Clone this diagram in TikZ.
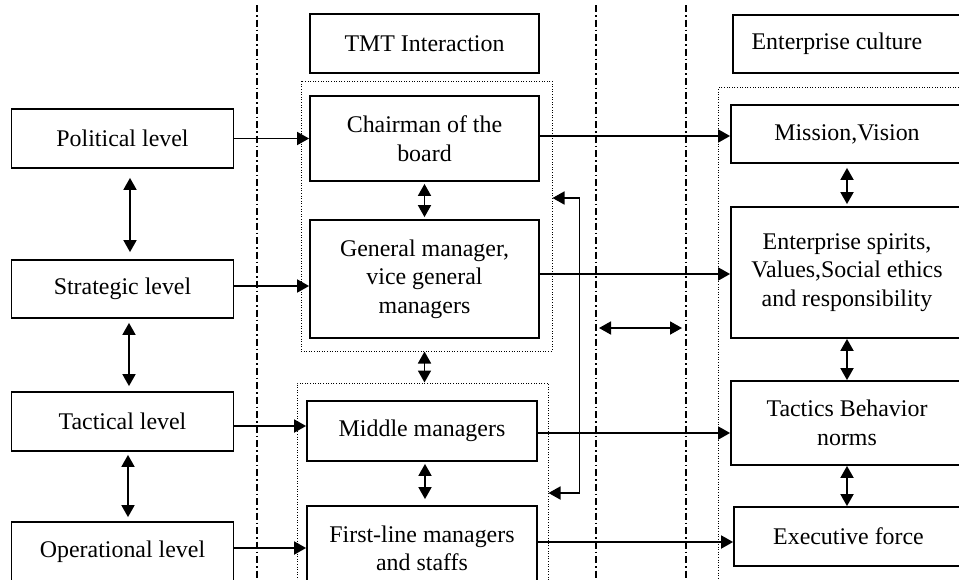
\documentclass[tikz,border=0pt]{standalone}
\usepackage{fontspec}
\setmainfont{Liberation Serif}
\usetikzlibrary{arrows.meta}
\begin{document}
\begin{tikzpicture}[x=1pt,y=-1pt,
  every node/.style={font=\fontsize{23.9}{28.5}\selectfont},
  box/.style={draw, line width=1.8pt, rectangle, inner sep=0pt, align=center},
  grp/.style={draw, line width=1pt, dash pattern=on 1pt off 1.6pt, rectangle, inner sep=0pt},
  sep/.style={line width=1.2pt, dash pattern=on 7pt off 3pt on 1.5pt off 3pt},
  arr/.style={line width=1.8pt, -{Triangle[length=12pt,width=13pt]}},
  dbl/.style={line width=1.8pt, {Triangle[length=12pt,width=13pt]}-{Triangle[length=12pt,width=13pt]}}
]
\useasboundingbox (0,0) rectangle (959,579);
\clip (0,0) rectangle (959,579);

% column separators
\coordinate (s1t) at (257,5);   \coordinate (s1b) at (257,579);
\coordinate (s2t) at (596,5);   \coordinate (s2b) at (596,579);
\coordinate (s3t) at (686,5);   \coordinate (s3b) at (686,579);
\draw[sep] (s1t) -- (s1b);
\draw[sep] (s2t) -- (s2b);
\draw[sep] (s3t) -- (s3b);

% management levels
\node[box, minimum width=222pt, minimum height=59pt] (pol) at (122.5,138.5) {Political level};
\node[box, minimum width=222pt, minimum height=58pt] (str) at (122.5,289) {Strategic level};
\node[box, minimum width=222pt, minimum height=59pt] (tac) at (122.5,421.5) {Tactical level};
\node[box, minimum width=222pt, minimum height=59pt] (ope) at (122.5,551.5) {Operational level};

% top management team
\node[box, minimum width=229pt, minimum height=59pt] (tmt) at (424.5,43.5) {TMT Interaction};
\node[grp, minimum width=251pt, minimum height=270pt] (g1) at (426.5,216) {};
\node[box, minimum width=229pt, minimum height=85pt] (chair) at (424.5,138.5) {Chairman of the\\board};
\node[box, minimum width=229pt, minimum height=118pt] (gen) at (424.5,279) {General manager,\\vice general\\managers};
\node[grp, minimum width=251pt, minimum height=240pt] (g2) at (422.5,503) {};
\node[box, minimum width=230pt, minimum height=60pt] (mid) at (422,431) {Middle managers};
\node[box, minimum width=230pt, minimum height=85pt] (first) at (422,548.5) {First-line managers\\and staffs};

% enterprise culture
\node[box, anchor=west, minimum width=231pt, minimum height=58pt] (ent) at (732,44) {Enterprise culture\hspace*{23pt}};
\node[grp, anchor=north west, minimum width=300pt, minimum height=540pt] (g3) at (718,87) {};
\node[box, minimum width=232pt, minimum height=58pt] (mis) at (847,134) {Mission,Vision};
\node[box, minimum width=232pt, minimum height=131pt] (spi) at (847,272.5) {Enterprise spirits,\\Values,Social ethics\\and responsibility};
\node[box, minimum width=232pt, minimum height=84pt] (tacb) at (847,423) {Tactics Behavior\\norms};
\node[box, minimum width=229pt, minimum height=59pt] (exe) at (848.5,536.5) {Executive force};

% level to team
\draw[arr] (pol.east) -- (pol.east -| chair.west);
\draw[arr] ([yshift=3pt]str.east) -- ([yshift=3pt]str.east -| gen.west);
\draw[arr] ([yshift=-4.5pt]tac.east) -- ([yshift=-4.5pt]tac.east -| mid.west);
\draw[arr] ([yshift=3.5pt]ope.east) -- ([yshift=3.5pt]ope.east -| first.west);

% team to culture
\draw[arr] ([yshift=2.5pt]chair.east) -- ([yshift=2.5pt]chair.east -| mis.west);
\draw[arr] ([yshift=5pt]gen.east) -- ([yshift=5pt]gen.east -| spi.west);
\draw[arr] ([yshift=-2pt]mid.east) -- ([yshift=-2pt]mid.east -| tacb.west);
\draw[arr] ([yshift=6.5pt]first.east) -- ([yshift=6.5pt]first.east -| exe.west);

% vertical links, levels
\draw[dbl] ([xshift=7.5pt,yshift=-9pt]pol.south) -- ([xshift=7.5pt,yshift=7pt]str.north);
\draw[dbl] ([xshift=6.5pt,yshift=-4pt]str.south) -- ([xshift=6.5pt,yshift=5pt]tac.north);
\draw[dbl] ([xshift=5.5pt,yshift=-3pt]tac.south) -- ([xshift=5.5pt,yshift=4pt]ope.north);

% vertical links, team
\draw[dbl] ([yshift=-2pt]chair.south) -- ([yshift=2pt]gen.north);
\draw[dbl] (g1.south -| gen.south) -- (g2.north -| gen.south);
\draw[dbl] ([xshift=3pt,yshift=-2pt]mid.south) -- ([xshift=3pt,yshift=6pt]first.north);
\draw[dbl] ([yshift=18pt]g1.east) -- ++(27,0) |- ([yshift=10pt]g2.east);

% vertical links, culture
\draw[dbl] ([yshift=-4pt]mis.south) -- ([yshift=2pt]spi.north);
\draw[dbl] (spi.south) -- (tacb.north);
\draw[dbl] (tacb.south) -- (tacb.south |- exe.north);

% interaction between team and culture
\coordinate (h1) at (599,328);
\coordinate (h2) at (682,328);
\draw[dbl] (h1) -- (h2);
\end{tikzpicture}
\end{document}
